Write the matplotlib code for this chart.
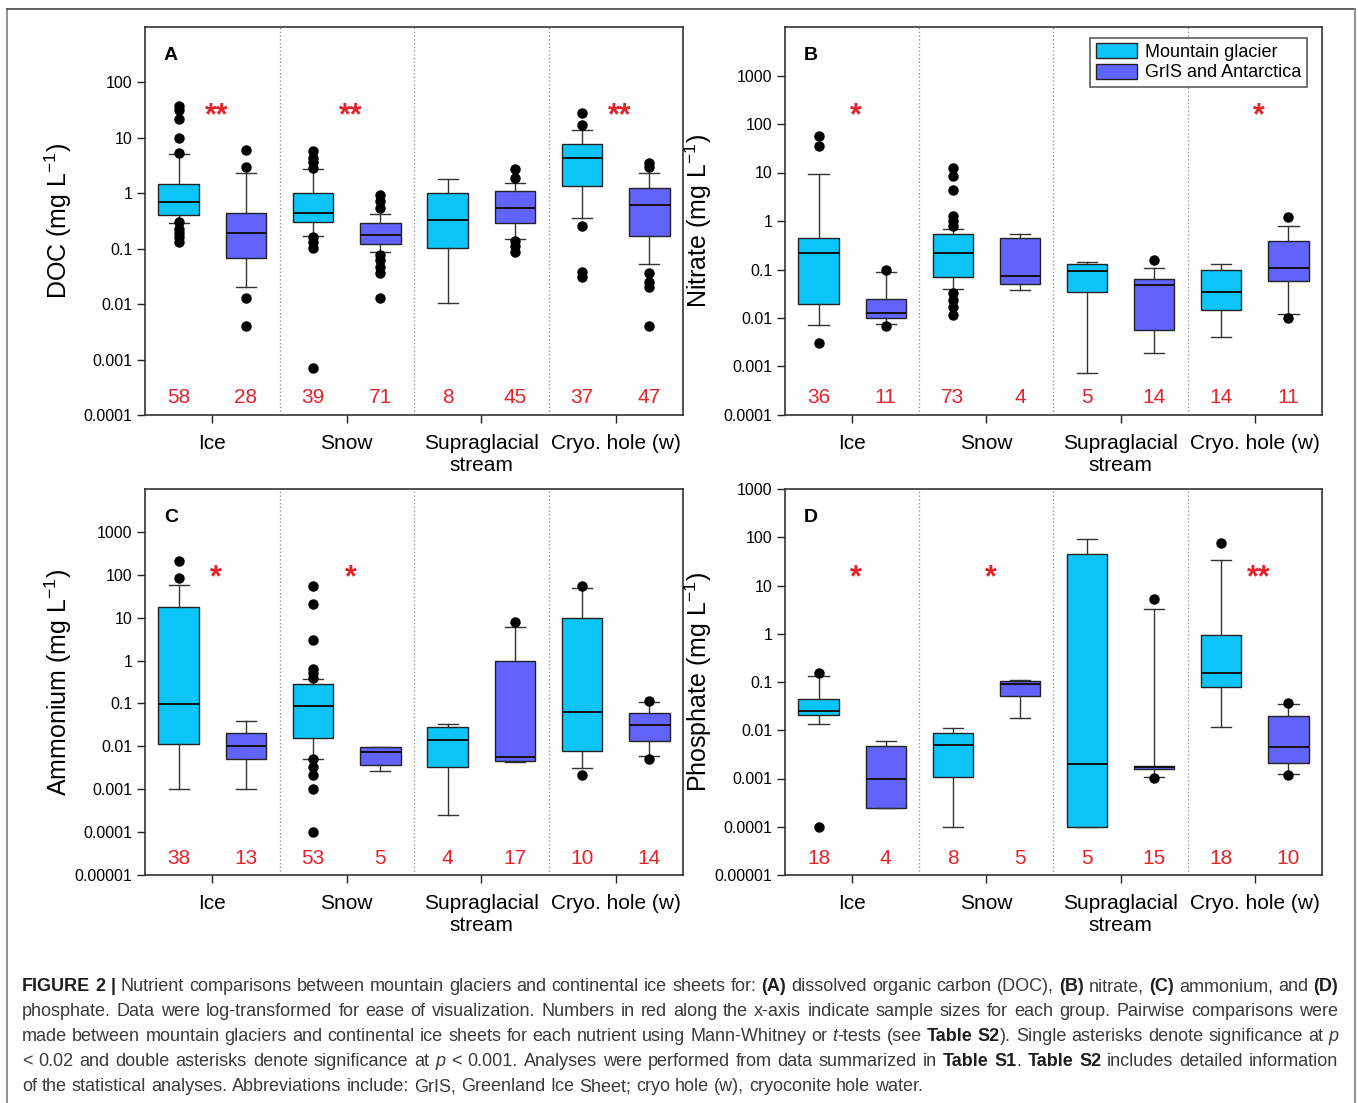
import re
import numpy as np
import matplotlib
matplotlib.use('Agg')
import matplotlib.pyplot as plt
from matplotlib import font_manager
from matplotlib.patches import Patch
from matplotlib.lines import Line2D

# fonts
names = {f.name for f in font_manager.fontManager.ttflist}
SANS = 'Liberation Sans' if 'Liberation Sans' in names else 'DejaVu Sans'
NARROW = 'Liberation Sans Narrow' if 'Liberation Sans Narrow' in names else SANS
plt.rcParams['font.family'] = [SANS, 'DejaVu Sans']
plt.rcParams['mathtext.fontset'] = 'custom'
plt.rcParams['mathtext.rm'] = SANS
plt.rcParams['mathtext.it'] = SANS + ':italic'

# ---- data (order: Ice MG, Ice GrIS, Snow MG, Snow GrIS, Supra MG, Supra GrIS, Cryo MG, Cryo GrIS)
categories = ['Ice', 'Snow', 'Supraglacial\nstream', 'Cryo. hole (w)']
groups = ['Mountain glacier', 'GrIS and Antarctica']

doc_lo = [0.29, 0.020, 0.17, 0.089, 0.0106, 0.15, 0.36, 0.054]
doc_q1 = [0.41, 0.067, 0.305, 0.122, 0.104, 0.29, 1.38, 0.167]
doc_med = [0.71, 0.19, 0.44, 0.18, 0.325, 0.55, 4.35, 0.61]
doc_q3 = [1.45, 0.45, 1.02, 0.29, 1.01, 1.09, 7.9, 1.23]
doc_hi = [5.1, 2.3, 2.7, 0.43, 1.79, 1.56, 13.6, 2.3]
doc_fliers = [[38, 32, 22, 10, 5.3, 0.3, 0.23, 0.19, 0.16, 0.13],
              [6.0, 3.0, 0.013, 0.004],
              [5.7, 4.4, 3.6, 2.9, 0.16, 0.13, 0.105, 0.0007],
              [0.95, 0.72, 0.55, 0.078, 0.063, 0.047, 0.037, 0.013],
              [],
              [2.8, 1.86, 0.135, 0.11, 0.089],
              [28, 17.2, 0.257, 0.038, 0.031],
              [3.5, 3.0, 0.036, 0.025, 0.02, 0.004]]
doc_n = [58, 28, 39, 71, 8, 45, 37, 47]
doc_sig = ['**', '**', '', '**']

no3_lo = [0.0072, 0.0075, 0.040, 0.037, 0.00073, 0.0019, 0.004, 0.0122]
no3_q1 = [0.0193, 0.0102, 0.0708, 0.050, 0.034, 0.0056, 0.0143, 0.0575]
no3_med = [0.218, 0.0126, 0.218, 0.072, 0.094, 0.048, 0.035, 0.105]
no3_q3 = [0.445, 0.0249, 0.53, 0.45, 0.129, 0.064, 0.096, 0.385]
no3_hi = [9.5, 0.087, 0.68, 0.55, 0.14, 0.109, 0.131, 0.80]
no3_fliers = [[56, 36, 0.0031],
              [0.099, 0.007],
              [12.4, 8.4, 4.4, 1.25, 0.98, 0.78, 0.033, 0.024, 0.017, 0.0116],
              [], [], [0.158], [], [1.21, 0.01]]
no3_n = [36, 11, 73, 4, 5, 14, 14, 11]
no3_sig = ['*', '', '', '*']

nh4_lo = [0.001, 0.001, 0.0052, 0.0026, 0.00025, 0.0042, 0.0031, 0.0058]
nh4_q1 = [0.0116, 0.005, 0.0155, 0.0037, 0.0033, 0.0046, 0.0076, 0.013]
nh4_med = [0.099, 0.01, 0.089, 0.0073, 0.0137, 0.0056, 0.0635, 0.031]
nh4_q3 = [17.7, 0.0202, 0.29, 0.0094, 0.029, 1.0, 10, 0.061]
nh4_hi = [58, 0.038, 0.366, 0.0099, 0.034, 6.0, 50, 0.11]
nh4_fliers = [[215, 85], [],
              [54, 21, 3.0, 0.62, 0.5, 0.4, 0.0052, 0.0033, 0.0021, 0.001, 0.0001],
              [], [], [8.0], [56, 0.0021], [0.112, 0.005]]
nh4_n = [38, 13, 53, 5, 4, 17, 10, 14]
nh4_sig = ['*', '*', '', '']

po4_lo = [0.0134, 0.00025, 0.0001, 0.0181, 0.0001, 0.0011, 0.0118, 0.00124]
po4_q1 = [0.0212, 0.00025, 0.0011, 0.0525, 0.0001, 0.00157, 0.079, 0.0021]
po4_med = [0.0249, 0.001, 0.0049, 0.093, 0.00197, 0.0017, 0.157, 0.0044]
po4_q3 = [0.0455, 0.0047, 0.0086, 0.104, 44.6, 0.0018, 0.957, 0.0196]
po4_hi = [0.132, 0.006, 0.0109, 0.109, 90, 3.25, 34, 0.0347]
po4_fliers = [[0.155, 0.0001], [], [], [], [], [5.3, 0.00101], [75], [0.036, 0.0012]]
po4_n = [18, 4, 8, 5, 5, 15, 18, 10]
po4_sig = ['*', '*', '', '**']

ticks_a = [1e-4, 1e-3, 1e-2, 1e-1, 1, 10, 100]
ticks_b = [1e-4, 1e-3, 1e-2, 1e-1, 1, 10, 100, 1000]
ticks_cd = [1e-5, 1e-4, 1e-3, 1e-2, 1e-1, 1, 10, 100, 1000]

CYAN = '#0CC4F8'
BLUE = '#6262FC'
RED = '#E3242B'

W, H = 1358, 1103
fig = plt.figure(figsize=(W / 100, H / 100), dpi=100)


def fmt(v):
    d = max(0, -int(np.floor(np.log10(v) + 1e-9)))
    return f'{v:.{d}f}'


def panel(rect, lo, q1, med, q3, hi, fliers, n, sig, ylim, ticks, ylabel, letter):
    x0, y0, x1, y1 = rect
    ax = fig.add_axes([x0 / W, 1 - y1 / H, (x1 - x0) / W, (y1 - y0) / H])
    ax.set_yscale('log')
    pos = [c + off for c in range(1, 5) for off in (-0.25, 0.25)]
    stats = [dict(whislo=lo[i], q1=q1[i], med=med[i], q3=q3[i], whishi=hi[i],
                  fliers=fliers[i]) for i in range(8)]
    bp = ax.bxp(stats, positions=pos, widths=0.3, patch_artist=True, manage_ticks=False,
                boxprops=dict(linewidth=1.0, edgecolor='#222222'),
                medianprops=dict(color='#111111', linewidth=1.4),
                whiskerprops=dict(color='#333333', linewidth=1.0),
                capprops=dict(color='#333333', linewidth=1.0),
                flierprops=dict(marker='o', markerfacecolor='black', markeredgecolor='black',
                                markersize=6.5))
    for i, b in enumerate(bp['boxes']):
        b.set_facecolor(CYAN if i % 2 == 0 else BLUE)
    for xs in (1.5, 2.5, 3.5):
        ax.axvline(xs, color='#888888', ls=(0, (1, 2)), lw=0.9, zorder=0)
    ax.set_xlim(0.5, 4.5)
    ax.set_ylim(*ylim)
    ax.set_xticks(range(1, 5))
    ax.set_xticklabels(categories, fontsize=15, linespacing=1.2)
    ax.set_yticks(ticks)
    ax.set_yticklabels([fmt(t) for t in ticks], fontsize=11.5, family=NARROW)
    ax.yaxis.set_minor_locator(matplotlib.ticker.NullLocator())
    ax.tick_params(axis='both', direction='out', length=6, width=1, color='#222222')
    ax.tick_params(axis='x', pad=8)
    ax.tick_params(axis='y', pad=3)
    for s in ax.spines.values():
        s.set_color('#333333')
        s.set_linewidth(1.2)
    ax.set_ylabel(ylabel, fontsize=18)
    ax.yaxis.set_label_coords(-0.132, 0.5)
    tr = ax.get_xaxis_transform()
    for p, v in zip(pos, n):
        ax.text(p, 0.044, str(v), transform=tr, ha='center', va='center', color=RED, fontsize=15)
    for c, s in zip(range(1, 5), sig):
        if s:
            ax.text(c + 0.03, 0.749, s, transform=tr, ha='center', va='baseline', color=RED,
                    fontsize=22, fontweight='bold')
    ax.text(0.035, 0.915, letter, transform=ax.transAxes, fontsize=14, fontweight='bold',
            va='baseline', ha='left')
    return ax


panel((145, 27, 683, 415), doc_lo, doc_q1, doc_med, doc_q3, doc_hi, doc_fliers, doc_n, doc_sig,
      (1e-4, 1e3), ticks_a, 'DOC (mg L$^{-1}$)', 'A')
axb = panel((785, 27, 1322, 415), no3_lo, no3_q1, no3_med, no3_q3, no3_hi, no3_fliers, no3_n,
            no3_sig, (1e-4, 1e4), ticks_b, 'Nitrate (mg L$^{-1}$)', 'B')
panel((145, 489, 683, 875), nh4_lo, nh4_q1, nh4_med, nh4_q3, nh4_hi, nh4_fliers, nh4_n, nh4_sig,
      (1e-5, 1e4), ticks_cd, 'Ammonium (mg L$^{-1}$)', 'C')
panel((785, 489, 1322, 875), po4_lo, po4_q1, po4_med, po4_q3, po4_hi, po4_fliers, po4_n, po4_sig,
      (1e-5, 1e3), ticks_cd, 'Phosphate (mg L$^{-1}$)', 'D')

handles = [Patch(facecolor=CYAN, edgecolor='#222222', lw=1), Patch(facecolor=BLUE, edgecolor='#222222', lw=1)]
leg = axb.legend(handles, groups, loc='upper right', bbox_to_anchor=(0.972, 0.972), borderaxespad=0,
                 fontsize=13, frameon=True, fancybox=False, handlelength=2.3, handleheight=0.9,
                 handletextpad=0.45, labelspacing=0.15, borderpad=0.3)
leg.get_frame().set_edgecolor('#333333')
leg.get_frame().set_linewidth(1.2)

# outer frame
for xs, ys, c in [((7, 7), (8.5, H), '#888888'), ((7, 1355), (8.5, 8.5), '#555555'),
                  ((1355, 1355), (8.5, H), '#888888')]:
    fig.add_artist(Line2D([x / W for x in xs], [1 - y / H for y in ys], color=c, lw=1.3))

# caption
caption = [
    "**FIGURE 2 |** Nutrient comparisons between mountain glaciers and continental ice sheets for: **(A)** dissolved organic carbon (DOC), **(B)** nitrate, **(C)** ammonium, and **(D)**",
    "phosphate. Data were log-transformed for ease of visualization. Numbers in red along the x-axis indicate sample sizes for each group. Pairwise comparisons were",
    "made between mountain glaciers and continental ice sheets for each nutrient using Mann-Whitney or _t_-tests (see **Table S2**). Single asterisks denote significance at _p_",
    "< 0.02 and double asterisks denote significance at _p_ < 0.001. Analyses were performed from data summarized in **Table S1**. **Table S2** includes detailed information",
    "of the statistical analyses. Abbreviations include: GrIS, Greenland Ice Sheet; cryo hole (w), cryoconite hole water.",
]


def parse(line):
    words = [[]]
    for m in re.finditer(r'\*\*(.+?)\*\*|_(.+?)_|([^*_]+)', line):
        if m.group(1):
            txt, st = m.group(1), 'bold'
        elif m.group(2):
            txt, st = m.group(2), 'italic'
        else:
            txt, st = m.group(3), 'normal'
        for i, p in enumerate(txt.split(' ')):
            if i > 0:
                words.append([])
            if p:
                words[-1].append((p, st))
    return [w for w in words if w]


renderer = fig.canvas.get_renderer()
CAP_FS = 13
LEFT, RIGHT = 22, 1338


def make(x, y, txt, st):
    kw = dict(fontsize=CAP_FS, va='baseline', ha='left', color='#3a3a3a')
    if st == 'bold':
        kw.update(fontweight='bold', color='#1e1e1e')
    elif st == 'italic':
        kw.update(style='italic')
    return fig.text(x / W, 1 - y / H, txt, **kw)


probe1 = make(0, -100, 'x x', 'normal')
probe2 = make(0, -100, 'xx', 'normal')
space = probe1.get_window_extent(renderer).width - probe2.get_window_extent(renderer).width
probe1.remove()
probe2.remove()

for li, line in enumerate(caption):
    y = 991 + 25 * li
    words = parse(line)
    arts = []
    widths = []
    for w in words:
        pieces = []
        tot = 0
        for txt, st in w:
            t = make(0, y, txt, st)
            wd = t.get_window_extent(renderer).width
            pieces.append((t, wd))
            tot += wd
        arts.append(pieces)
        widths.append(tot)
    if li < len(caption) - 1:
        gap = max(space * 0.8, (RIGHT - LEFT - sum(widths)) / (len(words) - 1))
    else:
        gap = space
    x = LEFT
    for pieces, wd in zip(arts, widths):
        xx = x
        for t, pw in pieces:
            t.set_x(xx / W)
            xx += pw
        x += wd + gap

fig.savefig('out.png', dpi=100)
